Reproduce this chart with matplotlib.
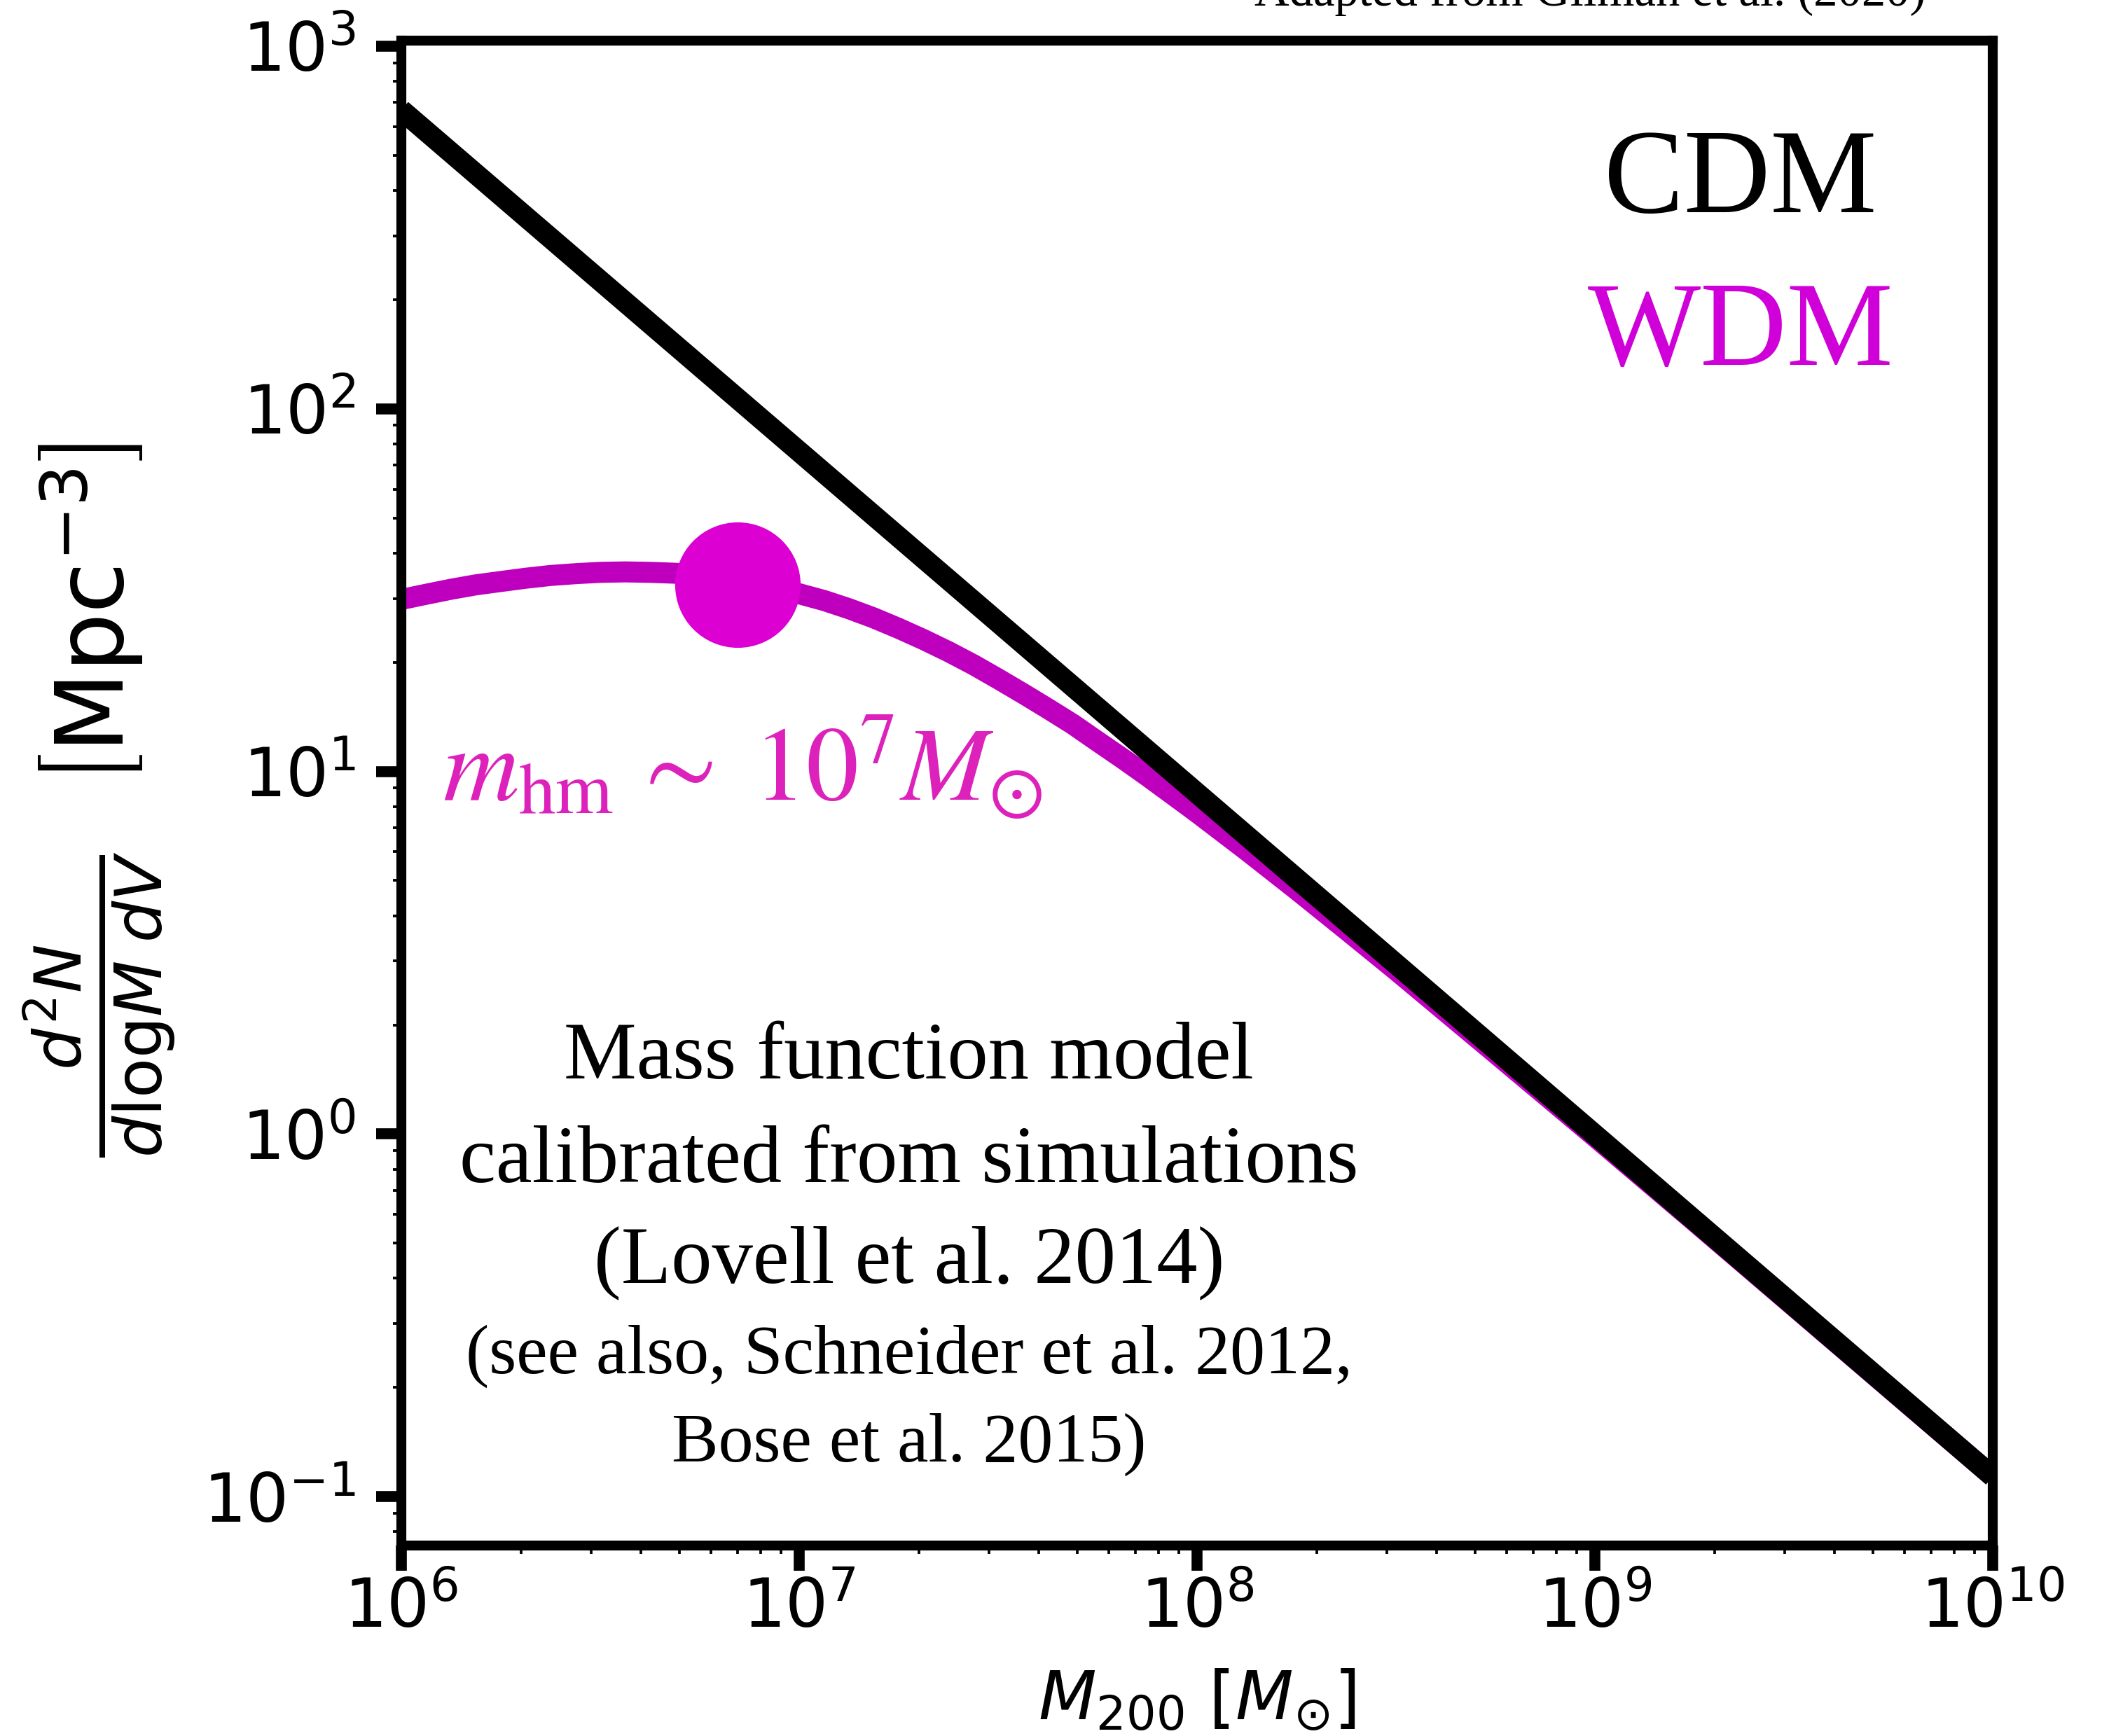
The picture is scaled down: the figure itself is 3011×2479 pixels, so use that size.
import matplotlib
matplotlib.use("Agg")
import matplotlib.pyplot as plt

# Halo mass function: CDM power law and WDM suppressed curve
mass_cdm = [1e6, 1e10]
dndlogm_cdm = [667.0, 0.1137]

log_mass_wdm = [6.0, 6.0625, 6.125, 6.1875, 6.25, 6.3125, 6.375, 6.4375,
                6.5, 6.5625, 6.625, 6.6875, 6.75, 6.8125, 6.875, 6.9375,
                7.0, 7.0625, 7.125, 7.1875, 7.25, 7.3125, 7.375, 7.4375,
                7.5, 7.5625, 7.625, 7.6875, 7.75, 7.8125, 7.875, 7.9375,
                8.0, 8.125, 8.25, 8.375, 8.5, 8.75, 9.0, 9.25, 9.5, 9.75, 10.0]
dndlogm_wdm = [29.8, 30.8, 31.8, 32.7, 33.4, 34.1, 34.7, 35.1,
               35.4, 35.5, 35.4, 35.2, 34.7, 34.1, 33.2, 32.2,
               30.9, 29.6, 28.1, 26.5, 24.8, 23.1, 21.4, 19.7,
               18.0, 16.4, 14.9, 13.5, 12.1, 10.86, 9.71, 8.65,
               7.70, 6.05, 4.72, 3.66, 2.83, 1.67, 0.983, 0.575, 0.335, 0.1951, 0.1137]
mass_wdm = [10 ** v for v in log_mass_wdm]

# half-mode mass marker
m_hm_mass = 7.0e6
m_hm_value = 32.7

x_limits = (1e6, 1e10)
y_limits = (0.0733, 1036.0)

note_big = ["Mass function model", "calibrated from simulations", "(Lovell et al. 2014)"]
note_small = ["(see also, Schneider et al. 2012,", "Bose et al. 2015)"]

c_wdm_line = "#BE00BE"
c_wdm_dot = "#DD00D3"
c_wdm_text = "#D000D8"
c_mhm_text = "#DD22BB"
serif = ["Liberation Serif", "DejaVu Serif"]

fig = plt.figure(figsize=(3011 / 300, 2479 / 300), dpi=300)
ax = fig.add_axes([0.1903, 0.1097, 0.7546, 0.8669])

ax.plot(mass_wdm, dndlogm_wdm, color=c_wdm_line, lw=7.2, solid_capstyle="butt",
        solid_joinstyle="round", zorder=2)
ax.plot([m_hm_mass], [m_hm_value], "o", ms=43, color=c_wdm_dot, mec="none", zorder=4)
ax.plot(mass_cdm, dndlogm_cdm, color="black", lw=7.2, solid_capstyle="butt", zorder=3)

ax.set_xscale("log")
ax.set_yscale("log")
ax.set_xlim(*x_limits)
ax.set_ylim(*y_limits)

for s in ax.spines.values():
    s.set_linewidth(3.4)
ax.tick_params(which="major", length=8.6, width=3.75, labelsize=23, direction="out")
ax.tick_params(which="minor", length=2.9, width=0.9, direction="out")
ax.tick_params(axis="x", which="major", pad=2)
ax.tick_params(axis="y", which="major", pad=7)

ax.set_xlabel(r"$M_{200}$ $[M_{\odot}]$", fontsize=23)
ax.xaxis.set_label_coords(0.5, -0.081)
ax.set_ylabel(r"$\frac{d^2N}{d\mathrm{log}M\;dV}$  $\left[\mathrm{Mpc}^{-3}\right]$", fontsize=32)
ax.yaxis.set_label_coords(-0.141, 0.495)

ax.text(0.8415, 0.886, "CDM", transform=ax.transAxes, ha="center", va="baseline",
        fontsize=41, family=serif, color="black")
ax.text(0.8415, 0.7846, "WDM", transform=ax.transAxes, ha="center", va="baseline",
        fontsize=41, family=serif, color=c_wdm_text)

ax.text(0.026, 0.4956, r"$m_{\rm hm}\,\sim\;10^7M_{\odot}$", transform=ax.transAxes,
        ha="left", va="baseline", fontsize=36, color=c_mhm_text, math_fontfamily="stix")

for line, yb in zip(note_big, [0.3104, 0.2415, 0.1750]):
    ax.text(0.319, yb, line, transform=ax.transAxes, ha="center", va="baseline",
            fontsize=28, family=serif)
for line, yb in zip(note_small, [0.1145, 0.0558]):
    ax.text(0.319, yb, line, transform=ax.transAxes, ha="center", va="baseline",
            fontsize=24, family=serif)

fig.text(0.754, 0.9968, "Adapted from Gilman et al. (2020)", ha="center", va="baseline",
         fontsize=16.5, family=serif)

fig.savefig("out.png", dpi=300)
